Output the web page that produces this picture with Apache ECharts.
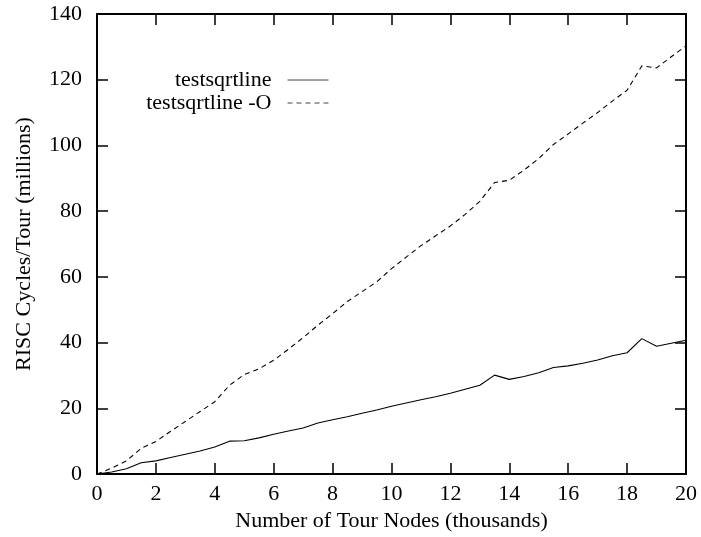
<!DOCTYPE html>
<html>
<head>
<meta charset="utf-8">
<script src="https://cdn.jsdelivr.net/npm/echarts@6/dist/echarts.min.js"></script>
<style>
html,body{margin:0;padding:0;background:#fff;}
#chart{width:701px;height:537px;}
</style>
</head>
<body>
<div id="chart"></div>
<script>
// Number of tour nodes (thousands)
const nodes = [0,0.5,1,1.5,2,2.5,3,3.5,4,4.5,5,5.5,6,6.5,7,7.5,8,8.5,9,9.5,10,10.5,11,11.5,12,12.5,13,13.5,14,14.5,15,15.5,16,16.5,17,17.5,18,18.5,19,19.5,20];
// RISC cycles per tour (millions)
const plain = [0,0.6,1.6,3.4,4.0,5.0,6.0,7.0,8.2,10.0,10.1,11.0,12.1,13.1,14.0,15.5,16.5,17.4,18.5,19.5,20.6,21.6,22.6,23.5,24.6,25.8,27.0,30.1,28.8,29.7,30.8,32.4,32.9,33.7,34.7,36.0,36.9,41.2,38.9,39.8,40.7];
const optimized = [0,1.8,4.0,7.8,9.9,13.0,16.0,19.0,22.0,27.0,30.3,32.0,34.6,38.0,41.5,45.3,48.8,52.5,55.5,58.5,62.5,66.0,69.5,72.5,75.5,79.0,83.0,88.7,89.4,92.5,96.0,100.3,103.5,106.8,110.0,113.5,116.8,124.2,123.6,127.0,130.3];
const seriesNames = ['testsqrtline', 'testsqrtline -O'];
const xTitle = 'Number of Tour Nodes (thousands)';
const yTitle = 'RISC Cycles/Tour (millions)';

const FONT = '"Liberation Serif", "DejaVu Serif", serif';
const chart = echarts.init(document.getElementById('chart'), null, {renderer: 'canvas'});
const pairs = arr => nodes.map((x, i) => [x, arr[i]]);
function axisBase() {
  return {
    type: 'value',
    axisLine: {show: true, onZero: false, lineStyle: {color: '#000', width: 2}},
    axisTick: {show: true, inside: true, length: 11, lineStyle: {color: '#000', width: 1.5}},
    splitLine: {show: false}
  };
}
chart.setOption({
  animation: false,
  backgroundColor: '#fff',
  textStyle: {fontFamily: FONT},
  grid: {left: 97, right: 15, top: 14, bottom: 61, containLabel: false},
  legend: {
    orient: 'vertical', align: 'right', right: 372, top: 69, padding: 0,
    itemWidth: 41, itemHeight: 12, itemGap: 1,
    formatter: name => name + '  ',
    itemStyle: {color: 'rgba(0,0,0,0)', borderWidth: 0, opacity: 0},
    lineStyle: {width: 1, color: '#444'},
    textStyle: {fontFamily: FONT, fontSize: 22, color: '#000'},
    data: seriesNames
  },
  xAxis: [
    Object.assign(axisBase(), {
      min: 0, max: 20, interval: 2, position: 'bottom',
      name: xTitle, nameLocation: 'middle', nameGap: 36,
      nameTextStyle: {fontFamily: FONT, fontSize: 22, color: '#000'},
      axisLabel: {fontFamily: FONT, fontSize: 22, color: '#000', margin: 9}
    }),
    Object.assign(axisBase(), {
      min: 0, max: 20, interval: 2, position: 'top',
      axisLabel: {show: false}
    })
  ],
  yAxis: [
    Object.assign(axisBase(), {
      min: 0, max: 140, interval: 20, position: 'left',
      name: yTitle, nameLocation: 'middle', nameGap: 62,
      nameTextStyle: {fontFamily: FONT, fontSize: 22, color: '#000'},
      axisLabel: {fontFamily: FONT, fontSize: 22, color: '#000', margin: 15}
    }),
    Object.assign(axisBase(), {
      min: 0, max: 140, interval: 20, position: 'right',
      axisLabel: {show: false}
    })
  ],
  series: [
    {
      name: seriesNames[0], type: 'line', data: pairs(plain),
      symbol: 'none', showSymbol: false,
      lineStyle: {color: '#000', width: 1.1, type: 'solid'},
      itemStyle: {color: '#000'}
    },
    {
      name: seriesNames[1], type: 'line', data: pairs(optimized),
      symbol: 'none', showSymbol: false,
      lineStyle: {color: '#000', width: 1.1, type: [5, 4]},
      itemStyle: {color: '#000'}
    }
  ]
});
</script>
</body>
</html>
